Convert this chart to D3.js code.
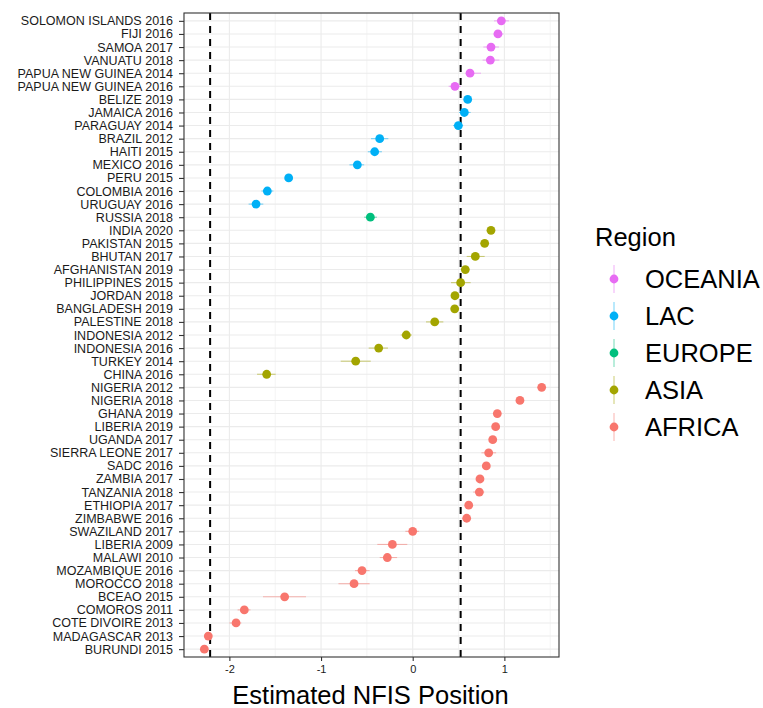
<!DOCTYPE html>
<html><head><meta charset="utf-8">
<script src="https://cdn.jsdelivr.net/npm/d3@7"></script>
<style>body{margin:0;background:#fff;} text{font-family:"Liberation Sans",Arial,sans-serif;}</style>
</head><body>
<svg id="chart" width="763" height="708"></svg>
<script>
const categories = ["SOLOMON ISLANDS 2016","FIJI 2016","SAMOA 2017","VANUATU 2018","PAPUA NEW GUINEA 2014","PAPUA NEW GUINEA 2016","BELIZE 2019","JAMAICA 2016","PARAGUAY 2014","BRAZIL 2012","HAITI 2015","MEXICO 2016","PERU 2015","COLOMBIA 2016","URUGUAY 2016","RUSSIA 2018","INDIA 2020","PAKISTAN 2015","BHUTAN 2017","AFGHANISTAN 2019","PHILIPPINES 2015","JORDAN 2018","BANGLADESH 2019","PALESTINE 2018","INDONESIA 2012","INDONESIA 2016","TURKEY 2014","CHINA 2016","NIGERIA 2012","NIGERIA 2018","GHANA 2019","LIBERIA 2019","UGANDA 2017","SIERRA LEONE 2017","SADC 2016","ZAMBIA 2017","TANZANIA 2018","ETHIOPIA 2017","ZIMBABWE 2016","SWAZILAND 2017","LIBERIA 2009","MALAWI 2010","MOZAMBIQUE 2016","MOROCCO 2018","BCEAO 2015","COMOROS 2011","COTE DIVOIRE 2013","MADAGASCAR 2013","BURUNDI 2015"];
const regions = ["OCEANIA","OCEANIA","OCEANIA","OCEANIA","OCEANIA","OCEANIA","LAC","LAC","LAC","LAC","LAC","LAC","LAC","LAC","LAC","EUROPE","ASIA","ASIA","ASIA","ASIA","ASIA","ASIA","ASIA","ASIA","ASIA","ASIA","ASIA","ASIA","AFRICA","AFRICA","AFRICA","AFRICA","AFRICA","AFRICA","AFRICA","AFRICA","AFRICA","AFRICA","AFRICA","AFRICA","AFRICA","AFRICA","AFRICA","AFRICA","AFRICA","AFRICA","AFRICA","AFRICA","AFRICA"];
const estimates = [0.967,0.93,0.854,0.847,0.625,0.461,0.6,0.563,0.498,-0.36,-0.415,-0.604,-1.353,-1.586,-1.709,-0.462,0.854,0.785,0.683,0.574,0.523,0.461,0.458,0.24,-0.07,-0.371,-0.622,-1.593,1.407,1.17,0.923,0.905,0.873,0.829,0.803,0.734,0.727,0.611,0.589,0.0,-0.222,-0.277,-0.553,-0.64,-1.397,-1.837,-1.927,-2.23,-2.273];
const lower = [0.887,0.88,0.771,0.763,0.589,0.392,0.57,0.505,0.44,-0.455,-0.49,-0.69,-1.383,-1.65,-1.79,-0.53,0.824,0.755,0.589,0.534,0.418,0.431,0.43,0.145,-0.13,-0.48,-0.785,-1.698,1.377,1.14,0.893,0.875,0.843,0.75,0.773,0.704,0.66,0.581,0.559,-0.08,-0.386,-0.36,-0.63,-0.81,-1.633,-1.91,-2.0,-2.27,-2.303];
const upper = [1.05,0.99,0.941,0.945,0.745,0.527,0.63,0.632,0.55,-0.266,-0.336,-0.53,-1.323,-1.52,-1.63,-0.39,0.884,0.815,0.785,0.614,0.632,0.491,0.5,0.334,-0.01,-0.27,-0.458,-1.495,1.437,1.2,0.953,0.935,0.903,0.91,0.833,0.764,0.78,0.641,0.619,0.07,-0.059,-0.17,-0.47,-0.47,-1.164,-1.77,-1.87,-2.19,-2.243];
const legendOrder = ["OCEANIA","LAC","EUROPE","ASIA","AFRICA"];
const regionColors = ["#E76BF3","#00B0F6","#00BF7D","#A3A500","#F8766D"];
const xTicks = [-2,-1,0,1];
const xMinor = [-2.5,-1.5,-0.5,0.5,1.5];
const cutoffs = [-2.21,0.523];
const xDomain = [-2.495,1.596];

const svg = d3.select("#chart");
const L = 184, R = 559, T = 13, B = 657;
const x = d3.scaleLinear().domain(xDomain).range([L,R]);
const y = d3.scalePoint().domain(categories).range([T,B]).padding(0.6);
const color = d3.scaleOrdinal().domain(legendOrder).range(regionColors);

// grid
svg.append("g").selectAll("line").data(xMinor).join("line")
  .attr("x1",d=>x(d)).attr("x2",d=>x(d)).attr("y1",T).attr("y2",B)
  .attr("stroke","#EBEBEB").attr("stroke-width",0.55);
svg.append("g").selectAll("line").data(xTicks).join("line")
  .attr("x1",d=>x(d)).attr("x2",d=>x(d)).attr("y1",T).attr("y2",B)
  .attr("stroke","#EBEBEB").attr("stroke-width",1.1);
svg.append("g").selectAll("line").data(categories).join("line")
  .attr("x1",L).attr("x2",R).attr("y1",d=>y(d)).attr("y2",d=>y(d))
  .attr("stroke","#EBEBEB").attr("stroke-width",1.1);

// cutoffs
svg.append("g").selectAll("line").data(cutoffs).join("line")
  .attr("x1",d=>x(d)).attr("x2",d=>x(d)).attr("y1",T).attr("y2",B)
  .attr("stroke","#000").attr("stroke-width",2).attr("stroke-dasharray","7,6");

// error bars and points
const rows = categories.map((c,i)=>({c, r:regions[i], v:estimates[i], lo:lower[i], hi:upper[i]}));
svg.append("g").selectAll("line").data(rows).join("line")
  .attr("x1",d=>x(d.lo)).attr("x2",d=>x(d.hi)).attr("y1",d=>y(d.c)).attr("y2",d=>y(d.c))
  .attr("stroke",d=>color(d.r)).attr("stroke-opacity",0.5).attr("stroke-width",1.1);
svg.append("g").selectAll("circle").data(rows).join("circle")
  .attr("cx",d=>x(d.v)).attr("cy",d=>y(d.c)).attr("r",4.4)
  .attr("fill",d=>color(d.r));

// border
svg.append("rect").attr("x",L).attr("y",T).attr("width",R-L).attr("height",B-T)
  .attr("fill","none").attr("stroke","#333333").attr("stroke-width",1.1);

// axes
const xAxis = svg.append("g").attr("transform",`translate(0,${B})`)
  .call(d3.axisBottom(x).tickValues(xTicks).tickSize(4).tickPadding(4).tickFormat(d=>String(d)));
xAxis.select(".domain").remove();
xAxis.selectAll("line").attr("stroke","#333333").attr("stroke-width",1.1);
xAxis.selectAll("text").attr("font-size","11px").attr("fill","#1a1a1a").attr("font-family","Liberation Sans, Arial, sans-serif");

const yAxis = svg.append("g").attr("transform",`translate(${L},0)`)
  .call(d3.axisLeft(y).tickSize(5).tickPadding(6));
yAxis.select(".domain").remove();
yAxis.selectAll("line").attr("stroke","#333333").attr("stroke-width",1.1);
yAxis.selectAll("text").attr("font-size","12.5px").attr("fill","#1a1a1a").attr("font-family","Liberation Sans, Arial, sans-serif");

svg.append("text").attr("x",(L+R)/2 - 1).attr("y",704).attr("text-anchor","middle")
  .attr("font-size","25.5px").attr("fill","#000").text("Estimated NFIS Position");

// legend
const lg = svg.append("g");
lg.append("text").attr("x",595).attr("y",246).attr("font-size","25.5px").attr("fill","#000").text("Region");
const items = lg.selectAll("g").data(legendOrder).join("g")
  .attr("transform",(d,i)=>`translate(614,${279 + i*37})`);
items.append("line").attr("x1",0).attr("x2",0).attr("y1",-14).attr("y2",14)
  .attr("stroke",d=>color(d)).attr("stroke-opacity",0.5).attr("stroke-width",1.1);
items.append("circle").attr("r",4.4).attr("fill",d=>color(d));
items.append("text").attr("x",31).attr("y",9).attr("font-size","25.5px").attr("fill","#000").text(d=>d);
</script>
</body></html>
